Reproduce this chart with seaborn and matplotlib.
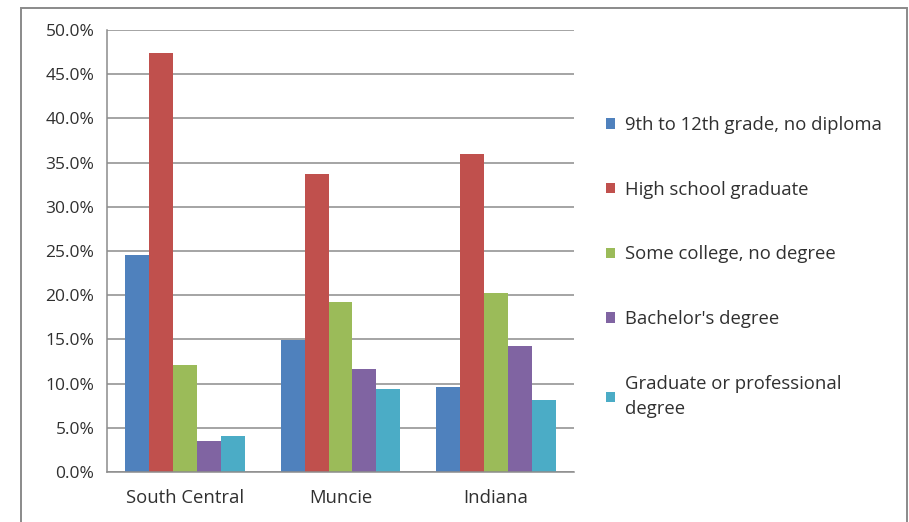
import matplotlib
matplotlib.use("Agg")
import matplotlib.pyplot as plt
from matplotlib.patches import Rectangle
from matplotlib.ticker import PercentFormatter, FixedLocator
import seaborn as sns
import pandas as pd

# Educational attainment shares by region (percent of population)
regions = ["South Central", "Muncie", "Indiana"]
levels = [
    "9th to 12th grade, no diploma",
    "High school graduate",
    "Some college, no degree",
    "Bachelor's degree",
    "Graduate or professional\ndegree",
]
no_diploma = [24.5, 14.9, 9.6]
high_school = [47.4, 33.7, 36.0]
some_college = [12.1, 19.2, 20.3]
bachelors = [3.5, 11.7, 14.3]
graduate = [4.1, 9.4, 8.1]

colors = ["#4F81BD", "#C0504D", "#9BBB59", "#8064A2", "#4BACC6"]

series = [no_diploma, high_school, some_college, bachelors, graduate]
rows = []
for level, vals in zip(levels, series):
    for region, v in zip(regions, vals):
        rows.append({"Region": region, "Level": level, "Share": v})
df = pd.DataFrame(rows)

sns.set_theme(style="white")
plt.rcParams["font.family"] = ["Open Sans", "DejaVu Sans"]
text_color = "#303030"
grid_color = "#8c8c8c"

fig = plt.figure(figsize=(9.09, 5.22), dpi=100)
ax = fig.add_axes([107 / 909, 1 - 472 / 522, (574 - 107) / 909, (472 - 30) / 522])

sns.barplot(
    data=df, x="Region", y="Share", hue="Level",
    order=regions, hue_order=levels, palette=colors,
    width=0.77, gap=0, linewidth=0, saturation=1, ax=ax, errorbar=None,
)

ax.set_ylim(0, 50)
ax.set_xlim(-0.5, 2.5)
ax.yaxis.set_major_locator(FixedLocator([i * 5 for i in range(11)]))
ax.yaxis.set_major_formatter(PercentFormatter(decimals=1))
ax.yaxis.grid(True, color=grid_color, linewidth=1.1)
ax.set_axisbelow(True)
ax.set_xlabel("")
ax.set_ylabel("")

for side in ["top", "right"]:
    ax.spines[side].set_visible(False)
for side in ["left", "bottom"]:
    ax.spines[side].set_color(grid_color)
    ax.spines[side].set_linewidth(1.1)

ax.tick_params(axis="y", which="major", direction="out", length=6, width=1.1,
               color=grid_color, pad=3, labelsize=12.5, labelcolor=text_color)
ax.tick_params(axis="x", which="major", length=0, pad=12,
               labelsize=13.3, labelcolor=text_color)
ax.set_xticks([-0.5, 0.5, 1.5, 2.5], minor=True)
ax.tick_params(axis="x", which="minor", direction="out", length=6, width=1.1,
               color=grid_color)

handles, labels = ax.get_legend_handles_labels()
leg = ax.legend(
    handles, labels, loc="upper left",
    bbox_to_anchor=(606 / 909, 1 - 116 / 522), bbox_transform=fig.transFigure,
    frameon=False, fontsize=13.3, labelcolor=text_color,
    handlelength=0.5, handleheight=0.5, handletextpad=0.55,
    labelspacing=2.53, borderpad=0, borderaxespad=0,
)
for t in leg.get_texts():
    t.set_linespacing(1.5)

# Chart-area frame
fig.add_artist(Rectangle((21 / 909, -0.05), (907 - 21) / 909, 1 - 8 / 522 + 0.05,
                         transform=fig.transFigure, fill=False,
                         edgecolor="#8a8a8a", linewidth=1.4))

fig.savefig("out.png", dpi=100, facecolor="white")
